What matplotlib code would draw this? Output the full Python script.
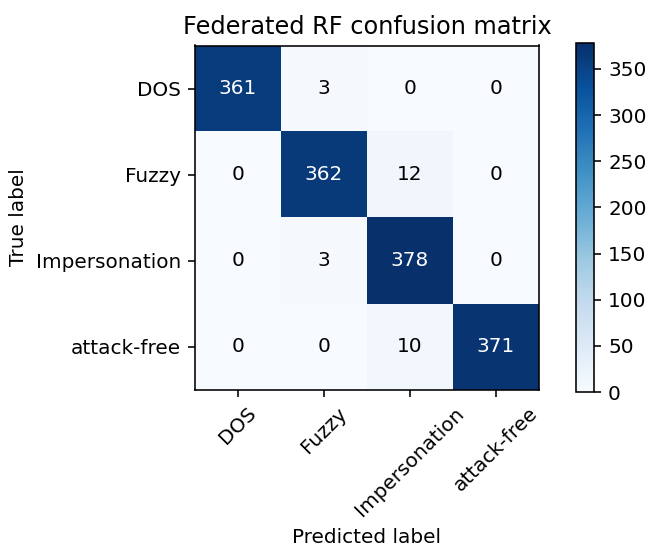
import numpy as np
import matplotlib
matplotlib.use('Agg')
import matplotlib.pyplot as plt

classes = ['DOS', 'Fuzzy', 'Impersonation', 'attack-free']
cm = np.array([[361, 3, 0, 0],
               [0, 362, 12, 0],
               [0, 3, 378, 0],
               [0, 0, 10, 371]])

W, H = 647, 552
DPI = 144

fig = plt.figure(figsize=(W / DPI, H / DPI), dpi=DPI)
# axes boxes in pixels (left, top, width, height)
ax = fig.add_axes([195 / W, 1 - 392 / H, 344 / W, 349 / H])
cax = fig.add_axes([576 / W, 1 - 392 / H, 18 / W, 349 / H])

im = ax.imshow(cm, interpolation='nearest', cmap=plt.cm.Blues)
ax.set_title('Federated RF confusion matrix')
fig.colorbar(im, cax=cax)

ticks = np.arange(len(classes))
ax.set_xticks(ticks)
ax.set_xticklabels(classes, rotation=45)
ax.set_yticks(ticks)
ax.set_yticklabels(classes)

thresh = cm.max() / 2.
for i in range(cm.shape[0]):
    for j in range(cm.shape[1]):
        ax.text(j, i, format(cm[i, j], 'd'),
                ha='center', va='center',
                color='white' if cm[i, j] > thresh else 'black')

ax.set_ylabel('True label')
ax.set_xlabel('Predicted label')

fig.savefig('out.png', dpi=DPI)
